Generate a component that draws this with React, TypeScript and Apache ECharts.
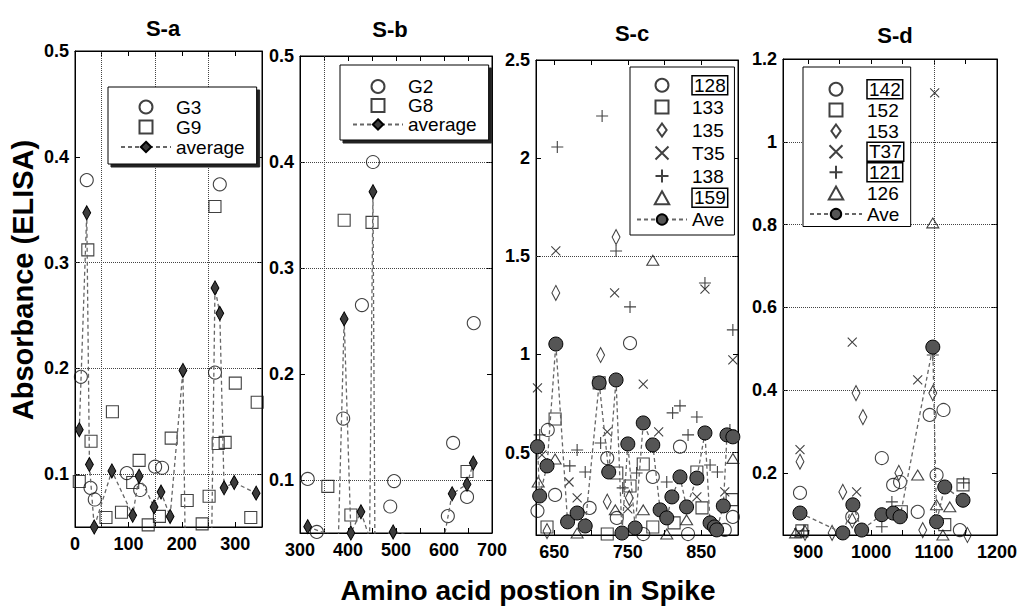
import React, { useEffect, useRef } from "react";
import * as echarts from "echarts";

type P = [number, number];

// ---------------- S-a ----------------
const saXTicks = [0, 50, 100, 150, 200, 250, 300, 350];
const saXLabels = [0, 100, 200, 300];
const saYLabels = [0.1, 0.2, 0.3, 0.4, 0.5];
const saHGrid = [0.1, 0.2, 0.3];
const saVGrid = [50, 150, 250];
const saG3: P[] = [[22, 0.378], [271, 0.374], [262, 0.196], [11, 0.192], [29, 0.087], [37, 0.076], [97, 0.101], [122, 0.085], [150, 0.107], [163, 0.106]];
const saG9: P[] = [[24, 0.312], [262, 0.353], [300, 0.186], [341, 0.168], [268, 0.129], [281, 0.13], [30, 0.131], [70, 0.159], [180, 0.134], [8, 0.093], [58, 0.059], [87, 0.064], [108, 0.092], [120, 0.113], [137, 0.052], [158, 0.06], [210, 0.075], [238, 0.053], [251, 0.079], [329, 0.059]];
const saAvg: P[] = [[8, 0.142], [22, 0.347], [27, 0.109], [36, 0.05], [69, 0.103], [108, 0.061], [120, 0.098], [148, 0.069], [161, 0.083], [178, 0.06], [202, 0.198], [206, 0.045], [256, 0.045], [262, 0.276], [271, 0.252], [279, 0.087], [298, 0.092], [339, 0.082]];

// ---------------- S-b ----------------
const sbXTicks = [300, 350, 400, 450, 500, 550, 600, 650, 700];
const sbXLabels = [300, 400, 500, 600, 700];
const sbYLabels = [0.1, 0.2, 0.3, 0.4, 0.5];
const sbHGrid = [0.1, 0.3, 0.4];
const sbVGrid = [350];
const sbG2: P[] = [[452, 0.4], [429, 0.265], [662, 0.248], [390, 0.158], [619, 0.135], [316, 0.101], [496, 0.099], [648, 0.084], [488, 0.075], [608, 0.066], [335, 0.051]];
const sbG8: P[] = [[392, 0.345], [450, 0.343], [648, 0.108], [358, 0.094], [406, 0.067]];
const sbAvg: P[] = [[316, 0.056], [380, 0.045], [392, 0.252], [406, 0.05], [427, 0.07], [445, 0.045], [452, 0.372], [456, 0.045], [494, 0.051], [555, 0.045], [600, 0.045], [617, 0.087], [648, 0.096], [661, 0.116]];

// ---------------- S-c ----------------
const scXTicks = [650, 700, 750, 800, 850, 900];
const scXLabels = [650, 750, 850];
const scYLabels = [0.5, 1, 1.5, 2, 2.5];
const scHGrid = [0.5, 1.5];
const scVGrid: number[] = [];
const sc128: P[] = [[753, 1.058], [641, 0.615], [821, 0.53], [722, 0.472], [784, 0.376], [651, 0.284], [698, 0.218], [627, 0.203], [735, 0.167], [771, 0.085], [832, 0.085], [893, 0.172], [882, 0.106]];
const sc133: P[] = [[651, 0.671], [735, 0.396], [771, 0.442], [753, 0.33], [844, 0.401], [851, 0.218], [813, 0.142], [784, 0.121], [722, 0.085], [640, 0.121], [711, 0.855], [892, 0.26]];
const sc135: P[] = [[734, 1.598], [652, 1.313], [713, 0.997], [752, 0.269], [722, 0.25], [640, 0.1]];
const scT35: P[] = [[652, 1.527], [855, 1.333], [732, 1.313], [627, 0.829], [771, 0.849], [792, 0.605], [722, 0.605], [633, 0.488], [670, 0.35], [844, 0.274], [882, 0.3], [681, 0.269], [750, 0.213], [893, 0.972]];
const sc138: P[] = [[654, 2.057], [715, 2.215], [734, 1.527], [855, 1.364], [753, 1.242], [821, 0.738], [811, 0.702], [844, 0.681], [832, 0.59], [630, 0.59], [681, 0.513], [713, 0.549], [671, 0.432], [692, 0.401], [762, 0.396], [743, 0.32], [803, 0.35], [862, 0.437], [872, 0.401], [893, 1.125], [889, 0.615]];
const sc159: P[] = [[784, 1.48], [651, 0.467], [733, 0.208], [771, 0.208], [830, 0.157], [681, 0.09], [803, 0.085], [893, 0.47], [628, 0.35]];
const scAve: P[] = [[627, 0.53], [630, 0.279], [640, 0.432], [652, 1.053], [668, 0.147], [681, 0.192], [692, 0.126], [711, 0.855], [724, 0.401], [734, 0.87], [742, 0.09], [750, 0.544], [760, 0.116], [771, 0.651], [784, 0.539], [794, 0.208], [803, 0.167], [810, 0.274], [821, 0.376], [830, 0.223], [844, 0.37], [855, 0.6], [862, 0.142], [868, 0.121], [871, 0.106], [880, 0.228], [885, 0.59], [893, 0.58]];

// ---------------- S-d ----------------
const sdXTicks = [900, 950, 1000, 1050, 1100, 1150, 1200];
const sdXLabels = [900, 1000, 1100, 1200];
const sdYLabels = [0.2, 0.4, 0.6, 0.8, 1, 1.2];
const sdHGrid = [0.4, 0.6, 0.8, 1];
const sdVGrid = [1100];
const sd142: P[] = [[887, 0.152], [1017, 0.236], [1093, 0.34], [1115, 0.352], [1035, 0.171], [1046, 0.178], [1104, 0.195], [1074, 0.106], [970, 0.094], [1141, 0.062]];
const sd152: P[] = [[1146, 0.171], [1048, 0.106], [1117, 0.075], [890, 0.06]];
const sd153: P[] = [[976, 0.393], [1098, 0.393], [987, 0.335], [887, 0.227], [955, 0.154], [1044, 0.2], [970, 0.085], [938, 0.055], [1082, 0.062], [1153, 0.05], [895, 0.055]];
const sdT37: P[] = [[1101, 1.118], [970, 0.516], [1074, 0.425], [887, 0.256], [977, 0.154], [885, 0.055]];
const sd121: P[] = [[1033, 0.13], [1017, 0.07], [1147, 0.176], [893, 0.06], [1098, 0.485]];
const sd126: P[] = [[1098, 0.804], [1074, 0.195], [1104, 0.123], [1125, 0.118], [880, 0.055], [1114, 0.05]];
const sdAve: P[] = [[887, 0.103], [955, 0.055], [971, 0.123], [985, 0.062], [1017, 0.099], [1035, 0.103], [1046, 0.094], [1098, 0.504], [1104, 0.082], [1117, 0.166], [1146, 0.134]];

const panelTitles = ["S-a", "S-b", "S-c", "S-d"];
const yTitle = "Absorbance (ELISA)";
const xTitle = "Amino acid postion in Spike";

const FONT = "'Liberation Sans', Arial, Helvetica, sans-serif";

const MARK: Record<string, { symbol: string; size: number | number[] }> = {
  circle: { symbol: "circle", size: 13 },
  square: { symbol: "path://M0,0L10,0L10,10L0,10Z", size: 12 },
  diamond: { symbol: "path://M5,0L10,7L5,14L0,7Z", size: [11, 15] },
  cross: { symbol: "path://M0,0L10,10M10,0L0,10", size: 9 },
  plus: { symbol: "path://M5,0L5,10M0,5L10,5", size: 12 },
  triangle: { symbol: "path://M5,0L10,9L0,9Z", size: [12, 11] },
};

const layouts = [
  { left: 75, top: 51, width: 187, height: 476, tx: 163, ty: 28 },
  { left: 300, top: 56, width: 192, height: 477, tx: 390, ty: 29 },
  { left: 536, top: 60, width: 202, height: 475, tx: 632, ty: 33 },
  { left: 783, top: 59, width: 214, height: 476, tx: 895, ty: 35 },
];

const panels = [
  {
    x: [0, 350], y: [0.05, 0.5], xTicks: saXTicks, xLabels: saXLabels, yLabels: saYLabels, hGrid: saHGrid, vGrid: saVGrid,
    scatters: [["G3", saG3, "circle"], ["G9", saG9, "square"]] as [string, P[], string][],
    avg: ["average", saAvg] as [string, P[]], avgType: "diamond",
  },
  {
    x: [300, 700], y: [0.05, 0.5], xTicks: sbXTicks, xLabels: sbXLabels, yLabels: sbYLabels, hGrid: sbHGrid, vGrid: sbVGrid,
    scatters: [["G2", sbG2, "circle"], ["G8", sbG8, "square"]] as [string, P[], string][],
    avg: ["average", sbAvg] as [string, P[]], avgType: "diamond",
  },
  {
    x: [625, 900], y: [0.08, 2.5], xTicks: scXTicks, xLabels: scXLabels, yLabels: scYLabels, hGrid: scHGrid, vGrid: scVGrid,
    scatters: [["128", sc128, "circle"], ["133", sc133, "square"], ["135", sc135, "diamond"], ["T35", scT35, "cross"], ["138", sc138, "plus"], ["159", sc159, "triangle"]] as [string, P[], string][],
    avg: ["Ave", scAve] as [string, P[]], avgType: "circle",
  },
  {
    x: [860, 1200], y: [0.05, 1.2], xTicks: sdXTicks, xLabels: sdXLabels, yLabels: sdYLabels, hGrid: sdHGrid, vGrid: sdVGrid,
    scatters: [["142", sd142, "circle"], ["152", sd152, "square"], ["153", sd153, "diamond"], ["T37", sdT37, "cross"], ["121", sd121, "plus"], ["126", sd126, "triangle"]] as [string, P[], string][],
    avg: ["Ave ", sdAve] as [string, P[]], avgType: "circle",
  },
];

const boxedNames = ["128", "159", "142", "T37", "121"];

function buildOption() {
  const grid: any[] = [];
  const xAxis: any[] = [];
  const yAxis: any[] = [];
  const series: any[] = [];
  const labelStyle = { color: "#000", fontFamily: FONT, fontWeight: "bold", fontSize: 18 };
  const plain = (v: number) => String(v);

  panels.forEach((p, i) => {
    const l = layouts[i];
    grid.push({ left: l.left, top: l.top, width: l.width, height: l.height, show: true, borderColor: "#000", borderWidth: 1, backgroundColor: "#fff" });
    const baseX = { type: "value", gridIndex: i, min: p.x[0], max: p.x[1], splitLine: { show: false }, axisLine: { show: true, onZero: false, lineStyle: { color: "#000", width: 1 } } };
    xAxis.push({ ...baseX, position: "bottom", axisTick: { inside: true, length: 5, customValues: p.xTicks, lineStyle: { color: "#000" } }, axisLabel: { ...labelStyle, margin: 8, customValues: p.xLabels, formatter: plain } });
    xAxis.push({ ...baseX, position: "top", axisTick: { inside: true, length: 5, customValues: p.xTicks, lineStyle: { color: "#000" } }, axisLabel: { show: false } });
    const baseY = { type: "value", gridIndex: i, min: p.y[0], max: p.y[1], splitLine: { show: false }, axisLine: { show: true, onZero: false, lineStyle: { color: "#000", width: 1 } } };
    yAxis.push({ ...baseY, position: "left", axisTick: { inside: true, length: 5, customValues: p.yLabels, lineStyle: { color: "#000" } }, axisLabel: { ...labelStyle, margin: 6, customValues: p.yLabels, formatter: plain } });
    yAxis.push({ ...baseY, position: "right", axisTick: { inside: true, length: 5, customValues: p.yLabels, lineStyle: { color: "#000" } }, axisLabel: { show: false } });

    p.scatters.forEach(([name, data, mk]) => {
      const m = MARK[mk];
      series.push({
        type: "scatter", name, data, xAxisIndex: 2 * i, yAxisIndex: 2 * i,
        symbol: m.symbol, symbolSize: m.size, symbolKeepAspect: true,
        itemStyle: { color: "rgba(0,0,0,0)", borderColor: "#111", borderWidth: 1.1 },
        z: 3,
      });
    });

    const filled = p.avgType === "diamond";
    series.push({
      type: "line", name: p.avg[0], data: p.avg[1], xAxisIndex: 2 * i, yAxisIndex: 2 * i,
      symbol: filled ? MARK.diamond.symbol : "circle", symbolSize: filled ? [11, 14] : 14, symbolKeepAspect: true, showAllSymbol: true, clip: true,
      itemStyle: { color: filled ? "#3c3c3c" : "#555", borderColor: "#000", borderWidth: 1 },
      lineStyle: { type: [4, 3], color: "#666", width: 1.3 },
      z: 4,
      markLine: {
        silent: true, symbol: ["none", "none"], label: { show: false }, z: 1,
        lineStyle: { type: "dotted", color: "#444", width: 1 },
        data: [...p.hGrid.map((v) => ({ yAxis: v })), ...p.vGrid.map((v) => ({ xAxis: v }))],
      },
    });
  });

  const legendText = (lh: number) => ({
    fontFamily: FONT, fontSize: 19, color: "#000", lineHeight: lh,
    rich: { b: { fontFamily: FONT, fontSize: 19, color: "#000", lineHeight: lh - 3, borderColor: "#000", borderWidth: 1.5, padding: [0, 2, 0, 2] } },
  });
  const fmt = (name: string) => (boxedNames.includes(name) ? `{b|${name}}` : name);
  const commonLegend = { orient: "vertical", selectedMode: false, backgroundColor: "#fff", borderColor: "#000", borderWidth: 1, itemHeight: 13, itemGap: 0, formatter: fmt, align: "left", symbolKeepAspect: true };
  const shadow = { shadowColor: "#222", shadowOffsetX: 3, shadowOffsetY: 3, shadowBlur: 1 };

  const legend = [
    { ...commonLegend, ...shadow, data: ["G3", "G9", "average"], left: 108, top: 87, padding: [10, 12, 7, 12], itemWidth: 50, textStyle: legendText(20) },
    { ...commonLegend, ...shadow, data: ["G2", "G8", "average"], left: 340, top: 65, padding: [12, 12, 6, 12], itemWidth: 50, textStyle: legendText(19) },
    { ...commonLegend, data: ["128", "133", "135", "T35", "138", "159", "Ave"], left: 630, top: 67, padding: [8, 6, 4, 6], itemWidth: 50, textStyle: legendText(23) },
    { ...commonLegend, data: ["142", "152", "153", "T37", "121", "126", "Ave "], left: 803, top: 67, padding: [12, 6, 2, 6], itemWidth: 52, textStyle: legendText(21) },
  ];

  const graphic: any[] = [
    ...panelTitles.map((t, i) => ({
      type: "text", x: layouts[i].tx, y: layouts[i].ty,
      style: { text: t, fontFamily: FONT, fontWeight: "bold", fontSize: 22, fill: "#000", align: "center", verticalAlign: "middle" },
    })),
    {
      type: "text", x: 23, y: 280, rotation: Math.PI / 2,
      style: { text: yTitle, fontFamily: FONT, fontWeight: "bold", fontSize: 29, fill: "#000", align: "center", verticalAlign: "middle" },
    },
    {
      type: "text", x: 528, y: 590,
      style: { text: xTitle, fontFamily: FONT, fontWeight: "bold", fontSize: 28, fill: "#000", align: "center", verticalAlign: "middle" },
    },
  ];

  return { animation: false, backgroundColor: "#fff", grid, xAxis, yAxis, series, legend, graphic };
}

export default function App() {
  const ref = useRef<HTMLDivElement>(null);
  useEffect(() => {
    if (!ref.current) return;
    const chart = echarts.init(ref.current, undefined, { renderer: "svg" });
    chart.setOption(buildOption() as any);
    return () => chart.dispose();
  }, []);
  return <div ref={ref} style={{ position: "absolute", left: 0, top: 0, width: 1021, height: 610 }} />;
}
